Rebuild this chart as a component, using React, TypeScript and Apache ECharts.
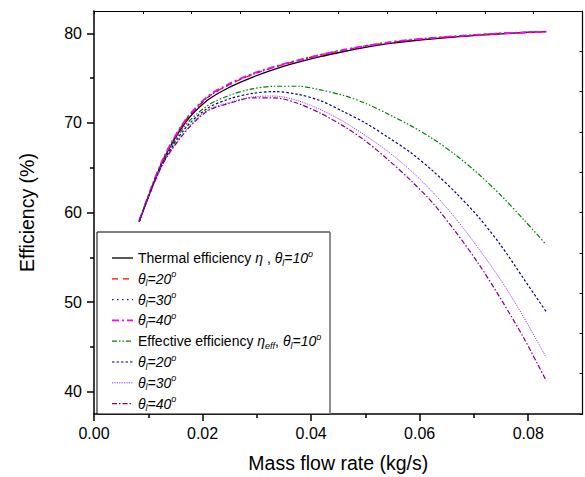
import React, { useEffect, useRef } from 'react';
import * as echarts from 'echarts';

// Mass flow rate (kg/s)
const massFlow = [0.00833, 0.0125, 0.01667, 0.02083, 0.025, 0.02917, 0.03333, 0.0375, 0.04167, 0.04583, 0.05, 0.05417, 0.05833, 0.0625, 0.06667, 0.07083, 0.075, 0.07917, 0.08333];

// Thermal efficiency (%)
const thermal10 = [59.0, 65.5, 69.9, 72.5, 74.0, 75.1, 76.0, 76.75, 77.4, 77.95, 78.45, 78.85, 79.15, 79.4, 79.6, 79.8, 79.95, 80.1, 80.2];
const thermal20 = [59.0, 65.6, 70.1, 72.8, 74.3, 75.4, 76.25, 76.95, 77.6, 78.1, 78.6, 78.95, 79.25, 79.5, 79.65, 79.85, 80.0, 80.1, 80.2];
const thermal30 = [59.0, 65.6, 70.1, 72.8, 74.3, 75.4, 76.25, 76.95, 77.55, 78.1, 78.55, 78.95, 79.25, 79.45, 79.65, 79.85, 80.0, 80.1, 80.2];
const thermal40 = [59.1, 65.7, 70.2, 72.9, 74.4, 75.5, 76.3, 77.0, 77.6, 78.15, 78.6, 79.0, 79.3, 79.5, 79.7, 79.85, 80.0, 80.1, 80.2];

// Effective efficiency (%)
const effective10 = [59.0, 65.4, 69.6, 71.9, 73.1, 73.8, 74.1, 74.1, 73.7, 73.1, 72.2, 71.0, 69.7, 68.2, 66.4, 64.3, 61.9, 59.2, 56.4];
const effective20 = [59.0, 65.3, 69.3, 71.6, 72.7, 73.3, 73.5, 73.2, 72.5, 71.3, 70.0, 68.4, 66.7, 64.6, 62.2, 59.5, 56.3, 52.6, 48.9];
const effective30 = [59.0, 65.2, 69.0, 71.4, 72.3, 72.9, 73.0, 72.5, 71.5, 70.2, 68.6, 66.8, 64.7, 62.2, 59.3, 56.0, 52.4, 48.3, 43.8];
const effective40 = [59.0, 65.2, 68.9, 71.3, 72.2, 72.8, 72.8, 72.2, 71.1, 69.7, 68.0, 65.9, 63.6, 61.0, 57.8, 54.3, 50.3, 46.0, 41.2];

const xMajorTicks = [0, 0.02, 0.04, 0.06, 0.08];
const xMinorTicks = [0.01, 0.03, 0.05, 0.07];
const yMajorTicks = [40, 50, 60, 70, 80];
const yMinorTicks = [45, 55, 65, 75];

const FONT = 'Liberation Sans, Arial, sans-serif';

const seriesDefs = [
  { name: 'Thermal 10', data: thermal10, color: '#000000', dash: 'solid' as any, width: 1.3, legend: '{n|Thermal efficiency }{i|η}{n| , }{i|θ}{s|l}{i|=10}{p|o}' },
  { name: 'Thermal 20', data: thermal20, color: '#ff0000', dash: [6, 5], width: 1.3, legend: '{i|θ}{s|l}{i|=20}{p|o}' },
  { name: 'Thermal 30', data: thermal30, color: '#0000ff', dash: [1.5, 3.5], width: 1.3, legend: '{i|θ}{s|l}{i|=30}{p|o}' },
  { name: 'Thermal 40', data: thermal40, color: '#ff00ff', dash: [7, 3, 2, 3], width: 1.8, legend: '{i|θ}{s|l}{i|=40}{p|o}' },
  { name: 'Effective 10', data: effective10, color: '#008000', dash: [5, 2, 1.5, 2, 1.5, 2], width: 1.2, legend: '{n|Effective efficiency }{i|η}{s|eff}{n|, }{i|θ}{s|l}{i|=10}{p|o}' },
  { name: 'Effective 20', data: effective20, color: '#000080', dash: [2.5, 2], width: 1.2, legend: '{i|θ}{s|l}{i|=20}{p|o}' },
  { name: 'Effective 30', data: effective30, color: '#9933ff', dash: [1.2, 1.2], width: 1.0, legend: '{i|θ}{s|l}{i|=30}{p|o}' },
  { name: 'Effective 40', data: effective40, color: '#800080', dash: [5, 2, 1.5, 2], width: 1.2, legend: '{i|θ}{s|l}{i|=40}{p|o}' },
];

export default function App() {
  const ref = useRef<HTMLDivElement>(null);

  useEffect(() => {
    if (!ref.current) return;
    const chart = echarts.init(ref.current, undefined, { renderer: 'svg' });

    const rich = {
      n: { fontSize: 14, fontFamily: FONT, lineHeight: 18, verticalAlign: 'middle', fill: '#000' },
      i: { fontSize: 14, fontFamily: FONT, fontStyle: 'italic', lineHeight: 18, verticalAlign: 'middle', fill: '#000' },
      s: { fontSize: 9, fontFamily: FONT, fontStyle: 'italic', lineHeight: 10, verticalAlign: 'bottom', fill: '#000' },
      p: { fontSize: 9, fontFamily: FONT, fontStyle: 'italic', lineHeight: 10, verticalAlign: 'top', fill: '#000' },
    };

    const legendX = 97;
    const legendY = 232;
    const rowY0 = 258;
    const rowStep = 20.8;
    const legendChildren: any[] = [
      {
        type: 'rect',
        shape: { x: legendX, y: legendY, width: 233, height: 182 },
        style: { fill: '#ffffff', stroke: '#000', lineWidth: 1 },
        z: 100,
      },
      {
        type: 'line',
        shape: { x1: legendX + 233, y1: legendY, x2: legendX + 233, y2: legendY + 182 },
        style: { stroke: '#9a9a9a', lineWidth: 1.2 },
        z: 101,
      },
    ];
    seriesDefs.forEach((s, k) => {
      const y = rowY0 + rowStep * k;
      legendChildren.push({
        type: 'line',
        shape: { x1: 112, y1: y, x2: 133, y2: y },
        style: {
          stroke: s.color,
          lineWidth: s.width,
          lineDash: Array.isArray(s.dash) ? s.dash : null,
        },
        z: 102,
      });
      legendChildren.push({
        type: 'text',
        x: 138,
        y: y,
        style: {
          text: s.legend,
          rich,
          fontSize: 14,
          fontFamily: FONT,
          verticalAlign: 'middle',
          align: 'left',
          fill: '#000',
        },
        z: 102,
      });
    });

    const option: any = {
      animation: false,
      backgroundColor: '#ffffff',
      grid: {
        left: 94,
        right: 2.5,
        top: 11,
        bottom: 63,
        containLabel: false,
        outerBoundsMode: 'none',
      },
      xAxis: [
        {
          type: 'value',
          position: 'bottom',
          min: 0,
          max: 0.09,
          name: 'Mass flow rate (kg/s)',
          nameLocation: 'middle',
          nameGap: 39,
          nameTextStyle: { fontSize: 19.5, fontFamily: FONT, color: '#000' },
          axisLine: { show: true, onZero: false, lineStyle: { color: '#000', width: 1.5 } },
          axisTick: { show: true, inside: false, length: 7, customValues: xMajorTicks, lineStyle: { color: '#000', width: 1.5 } },
          axisLabel: {
            show: true,
            customValues: xMajorTicks,
            margin: 11,
            fontSize: 16,
            fontFamily: FONT,
            color: '#000',
            formatter: (v: number) => v.toFixed(2),
          },
          splitLine: { show: false },
        },
        {
          type: 'value',
          position: 'bottom',
          min: 0,
          max: 0.09,
          axisLine: { show: false, onZero: false },
          axisTick: { show: true, inside: false, length: 4, customValues: xMinorTicks, lineStyle: { color: '#000', width: 1.5 } },
          axisLabel: { show: false },
          splitLine: { show: false },
        },
        {
          type: 'value',
          position: 'top',
          min: 0,
          max: 10,
          interval: 1,
          axisLine: { show: true, onZero: false, lineStyle: { color: '#000', width: 1.2 } },
          axisTick: { show: true, inside: true, length: 3, lineStyle: { color: '#000', width: 1 } },
          axisLabel: { show: false },
          splitLine: { show: false },
        },
      ],
      yAxis: [
        {
          type: 'value',
          position: 'left',
          min: 37.5,
          max: 82.5,
          name: 'Efficiency (%)',
          nameLocation: 'middle',
          nameGap: 57,
          nameTextStyle: { fontSize: 19.5, fontFamily: FONT, color: '#000' },
          axisLine: { show: true, onZero: false, lineStyle: { color: '#000', width: 1.5 } },
          axisTick: { show: true, inside: false, length: 7, customValues: yMajorTicks, lineStyle: { color: '#000', width: 1.5 } },
          axisLabel: {
            show: true,
            customValues: yMajorTicks,
            margin: 12,
            fontSize: 16,
            fontFamily: FONT,
            color: '#000',
          },
          splitLine: { show: false },
        },
        {
          type: 'value',
          position: 'left',
          min: 37.5,
          max: 82.5,
          axisLine: { show: false, onZero: false },
          axisTick: { show: true, inside: false, length: 4, customValues: yMinorTicks, lineStyle: { color: '#000', width: 1.5 } },
          axisLabel: { show: false },
          splitLine: { show: false },
        },
        {
          type: 'value',
          position: 'right',
          min: 0,
          max: 10,
          interval: 1,
          axisLine: { show: true, onZero: false, lineStyle: { color: '#000', width: 1.2 } },
          axisTick: { show: true, inside: true, length: 3, lineStyle: { color: '#000', width: 1 } },
          axisLabel: { show: false },
          splitLine: { show: false },
        },
      ],
      series: seriesDefs.map((s) => ({
        name: s.name,
        type: 'line',
        xAxisIndex: 0,
        yAxisIndex: 0,
        smooth: 0.3,
        symbol: 'none',
        data: massFlow.map((x, i) => [x, s.data[i]]),
        lineStyle: { color: s.color, width: s.width, type: s.dash },
        itemStyle: { color: s.color },
        emphasis: { disabled: true },
      })),
      graphic: [
        {
          type: 'group',
          children: legendChildren,
        },
      ],
    };

    chart.setOption(option);
    return () => {
      chart.dispose();
    };
  }, []);

  return (
    <div
      ref={ref}
      style={{ position: 'absolute', left: 0, top: 0, width: 585, height: 477, background: '#fff' }}
    />
  );
}
